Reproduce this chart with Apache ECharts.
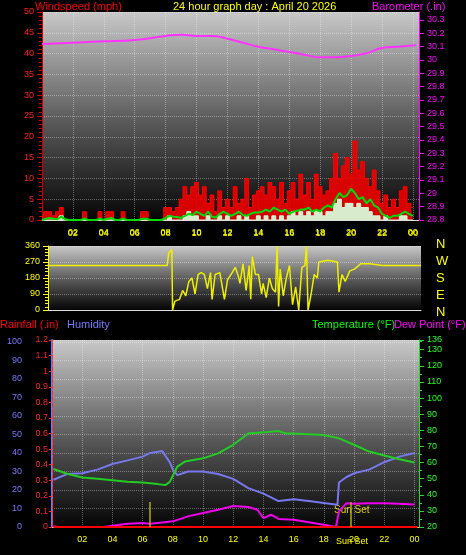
<!DOCTYPE html>
<html>
<head>
<script src="https://cdn.jsdelivr.net/npm/echarts@6.0.0/dist/echarts.min.js"></script>
<style>
  body { margin: 0; background: #000; }
  #chart { width: 466px; height: 555px; }
</style>
</head>
<body>
<div id="chart"></div>
<script>
// wind samples every 15 minutes, 00:00 .. 24:00
const windStep = 0.25;
const windGust = [0,2,2,1,2,3,0,0, 0,0,0,2,0,0,0,2, 0,2,2,0,0,2,0,0, 0,0,2,2,0,0,0,0,
  3,3,2,3, 5,8,6,8, 9,6,8,4, 6,2,7,3, 5,3,8,4, 5,10,3,6, 7,8,6,9, 8,5,9,4,
  7,9,5,11, 6,9,5,11, 8,6,7,10, 16,10,13,15, 11,19,12,14, 10,8,12,7, 4,6,3,5, 3,7,8,4, 3];
const windAvg = [0,0.3,0.5,0.3,0.2,0.8,0.2,0, 0,0,0,0.3,0,0,0,0.3, 0,0.3,0.5,0,0,0.3,0,0, 0,0,0.3,0.3,0,0,0,0,
  0.5,1,0.8,0.7, 0.5,1,1.5,1.2, 2,1.5,1,2, 0.8,0.6,1.5,2, 1.5,1,1.5,2, 1.2,1,1.5,1.8, 1.8,2,2.5,2, 3,2.5,2,2.5,
  1.5,2,2.2,2.5, 2.5,3,2,2.5, 2,3,3.5,3, 5,6.5,5.5,6, 7.5,6.5,5,5.5, 4,5,3.5,3, 1.5,1,0.5,1, 1,1.5,2,1.5, 1];
const windLull = [0,0,0,0,0,1,0,0, 0,0,0,0,0,0,0,0, 0,0,0,0,0,0,0,0, 0,0,0,0,0,0,0,0,
  0,1,0,0, 0,1,2,1, 1,0,0,1, 0,0,1,0, 1,0,0,1, 0,1,0,0, 1,0,1,0, 1,0,1,0,
  1,2,1,2, 1,2,1,2, 2,1,2,2, 4,5,3,4, 4,3,4,3, 3,2,1,1, 0,1,0,0, 0,1,1,0, 0];

const baroHours = [0,2,4,6,8,9,10,11,12,13,14,15,16,17,18,19,20,21,22,23,24.2];
const baroValues = [30.12,30.13,30.14,30.15,30.18,30.19,30.18,30.18,30.16,30.13,30.10,30.08,30.06,30.04,30.02,30.02,30.03,30.05,30.09,30.10,30.11];

const dirHours = [0,8.1,8.2,8.4,8.45,8.6,8.9,9.1,9.3,9.5,9.7,9.9,10.1,10.3,10.5,10.7,10.9,11.0,11.2,11.5,11.7,11.8,12.0,12.3,12.5,12.7,12.8,13.0,13.2,13.4,13.5,13.6,13.8,14.0,14.2,14.3,14.5,14.7,14.9,15.1,15.2,15.3,15.4,15.6,15.8,16.0,16.2,16.4,16.6,16.8,17.0,17.1,17.2,17.4,17.6,17.8,17.9,18.5,19.1,19.2,19.4,19.6,19.9,20.2,20.6,21.2,22.0,24.5];
const dirValues = [250,250,320,340,0,50,60,110,80,160,180,90,200,210,200,120,210,60,200,210,110,60,170,210,240,190,150,260,110,250,60,300,200,200,90,150,70,180,120,100,360,20,230,80,180,250,30,130,0,240,250,360,0,90,200,180,270,280,270,100,200,160,220,230,260,260,250,250];

const humHours = [0.1,1,2,3,4,5,6,6.5,7.3,7.8,8.0,8.3,9,10,11,12,13,14,14.5,15,16,17,18,18.9,19.0,19.5,20,21,22,23,24];
const humValues = [25.5,28.6,29,31,34,36,38,40,41,35,31,28,30,30,28.6,26,21,18,16,14,15,14,13,12,24,27,29,31,35,38,40];
const tempHours = [0.1,1,2,3,4,5,6,7,7.5,7.8,8.3,8.8,10,11,12,13,14,15,15.5,16,17,18,19,20,21,22,23,24];
const tempValues = [56,53,50.7,50,49,48,47.6,46.6,46,48,57.5,60.6,62.6,65.7,71,78,78.7,79.5,78,78,77.5,77,75,71,66.8,64.3,62,60];
const dewHours = [0.1,1,2,3,4,5,6,6.5,7,8,9,10,11,12,13,13.6,14,14.5,15,16,17,18,18.8,19,19.5,20,21,22,23,24];
const dewValues = [20.4,19,18.4,19.4,20.8,22,22.5,22,22.5,23.5,26.6,28.7,30.7,33,32.4,30.7,25.5,27.6,25,24.5,23,21.4,20,29.7,34.8,34.4,34.8,34.8,34.4,34];
const rainHours = [0.1,24.2];
const rainValues = [0,0];
const sunMarks = [6.5,19.8];

const pairs = (xs, ys) => xs.map((x, i) => [x, ys[i]]);
const stepped = ys => ys.map((v, i) => [i * windStep, v]);

const bg = () => new echarts.graphic.LinearGradient(0, 0, 0, 1, [
  { offset: 0, color: '#c8c8c8' }, { offset: 0.55, color: '#555' }, { offset: 1, color: '#050505' }]);
const split = { show: true, lineStyle: { color: 'rgba(255,255,255,0.35)', type: 'dotted' } };
const hourLabel = v => (v <= 0 || v > 24 ? '' : String(v % 24).padStart(2, '0'));
const lab = c => ({ color: c, fontSize: 9, fontFamily: 'Liberation Sans' });
const font = '11px Liberation Sans';

const chart = echarts.init(document.getElementById('chart'));
chart.setOption({
  backgroundColor: '#000',
  animation: false,
  grid: [
    { left: 42, right: 47, top: 12, height: 208, show: true, backgroundColor: bg(), borderWidth: 0 },
    { left: 48, right: 45, top: 246, height: 64, show: true, backgroundColor: bg(), borderWidth: 0 },
    { left: 52, right: 47, top: 340, height: 187, show: true, backgroundColor: bg(), borderWidth: 0 }
  ],
  xAxis: [
    { gridIndex: 0, type: 'value', min: 0, max: 24.4, interval: 2, axisLabel: { ...lab('#ffff00'), formatter: hourLabel },
      axisLine: { lineStyle: { color: '#ddd' } }, axisTick: { show: false }, splitLine: split },
    { gridIndex: 1, type: 'value', position: 'top', min: 0.4, max: 24.5, interval: 2, axisLabel: { ...lab('#ffff00'), formatter: hourLabel, customValues: [2,4,6,8,10,12,14,16,18,20,22,24] },
      axisLine: { lineStyle: { color: '#ddd' } }, axisTick: { show: false }, splitLine: { show: false } },
    { gridIndex: 2, type: 'value', min: 0, max: 24.3, interval: 2, axisLabel: { ...lab('#ffff00'), formatter: hourLabel },
      axisLine: { lineStyle: { color: '#ddd' } }, axisTick: { show: false }, splitLine: split }
  ],
  yAxis: [
    { gridIndex: 0, type: 'value', position: 'left', min: 0, max: 50, interval: 5, axisLabel: lab('#ff2020'),
      axisLine: { show: true, lineStyle: { color: '#cc0000' } }, axisTick: { show: true, lineStyle: { color: '#cc0000' } },
      minorTick: { show: true, splitNumber: 5, lineStyle: { color: '#cc0000' } }, splitLine: split },
    { gridIndex: 0, type: 'value', position: 'right', min: 28.8, max: 30.36, interval: 0.1,
      axisLabel: { ...lab('#ff00ff'), formatter: v => +v.toFixed(1) },
      axisLine: { show: true, lineStyle: { color: '#ff00ff' } }, axisTick: { show: true, lineStyle: { color: '#ff00ff' } }, splitLine: { show: false } },
    { gridIndex: 1, type: 'value', position: 'left', min: 0, max: 360, interval: 90, axisLabel: lab('#ffff00'),
      axisLine: { show: true, lineStyle: { color: '#ffff00' } }, axisTick: { show: true, lineStyle: { color: '#ffff00' } },
      minorTick: { show: true, splitNumber: 5, lineStyle: { color: '#ffff00' } }, splitLine: split },
    { gridIndex: 2, type: 'value', position: 'left', min: 0, max: 101, interval: 10, offset: 22, axisLabel: lab('#7777ff'),
      axisLine: { show: true, lineStyle: { color: '#7777ff', width: 2 } }, axisTick: { show: false }, splitLine: split },
    { gridIndex: 2, type: 'value', position: 'left', min: 0, max: 1.2, interval: 0.1,
      axisLabel: { ...lab('#ff2020'), margin: 4, formatter: v => +v.toFixed(1) },
      axisLine: { show: true, lineStyle: { color: '#ff3030', type: 'dashed' } }, axisTick: { show: true, length: 3, lineStyle: { color: '#ff3030' } }, splitLine: { show: false } },
    { gridIndex: 2, type: 'value', position: 'right', min: 20, max: 136, interval: 10, axisLabel: lab('#20ff20'),
      axisLine: { show: true, lineStyle: { color: '#20dd20' } }, axisTick: { show: true, lineStyle: { color: '#20dd20' } },
      minorTick: { show: true, splitNumber: 2, lineStyle: { color: '#20dd20' } }, splitLine: { show: false } }
  ],
  series: [
    { type: 'line', xAxisIndex: 0, yAxisIndex: 0, data: stepped(windGust), step: 'middle', symbol: 'none',
      lineStyle: { color: '#ff0000', width: 1 }, areaStyle: { color: '#ee0000', opacity: 0.9 } },
    { type: 'line', xAxisIndex: 0, yAxisIndex: 0, data: stepped(windLull), step: 'middle', symbol: 'none',
      lineStyle: { color: '#d8f8d8', width: 1 }, areaStyle: { color: '#d8f8d8', opacity: 0.95 } },
    { type: 'line', xAxisIndex: 0, yAxisIndex: 0, data: stepped(windAvg), symbol: 'none',
      lineStyle: { color: '#00dd00', width: 2 } },
    { type: 'line', xAxisIndex: 0, yAxisIndex: 1, data: pairs(baroHours, baroValues), smooth: true, symbol: 'none',
      lineStyle: { color: '#ff33ff', width: 2 } },
    { type: 'line', xAxisIndex: 1, yAxisIndex: 2, data: pairs(dirHours, dirValues), symbol: 'none',
      lineStyle: { color: '#eeee00', width: 1.5 } },
    { type: 'line', xAxisIndex: 2, yAxisIndex: 3, data: pairs(humHours, humValues), symbol: 'none',
      lineStyle: { color: '#7777ee', width: 2 } },
    { type: 'line', xAxisIndex: 2, yAxisIndex: 5, data: pairs(tempHours, tempValues), symbol: 'none',
      lineStyle: { color: '#22cc22', width: 2 } },
    { type: 'line', xAxisIndex: 2, yAxisIndex: 5, data: pairs(dewHours, dewValues), symbol: 'none',
      lineStyle: { color: '#ee00ee', width: 2 } },
    { type: 'line', xAxisIndex: 2, yAxisIndex: 4, data: pairs(rainHours, rainValues), symbol: 'none',
      lineStyle: { color: '#ff0000', width: 2 },
      markLine: { symbol: 'none', silent: true, label: { show: false },
        lineStyle: { color: '#bbaa00', type: 'solid', width: 1.5 },
        data: sunMarks.map(h => [{ coord: [h, 0] }, { coord: [h, 0.16] }]) } }
  ],
  graphic: [
    { type: 'text', left: 35, top: 1, style: { text: 'Windspeed (mph)', fill: '#ff0000', font } },
    { type: 'text', left: 173, top: 1, style: { text: '24 hour graph day : April 20 2026', fill: '#ffff00', font } },
    { type: 'text', left: 372, top: 1, style: { text: 'Barometer (.in)', fill: '#ff00ff', font } },
    { type: 'text', left: 0, top: 319, style: { text: 'Rainfall (.in)', fill: '#ff0000', font } },
    { type: 'text', left: 67, top: 319, style: { text: 'Humidity', fill: '#7777ff', font } },
    { type: 'text', left: 312, top: 319, style: { text: 'Temperature (°F)', fill: '#00ff00', font } },
    { type: 'text', left: 394, top: 319, style: { text: 'Dew Point (°F)', fill: '#ff00ff', font } },
    { type: 'text', left: 334, top: 505, style: { text: 'Sun Set', fill: '#ddcc00', font: '10px Liberation Sans' } },
    { type: 'text', left: 336, top: 537, style: { text: 'Sun Set', fill: '#ffff00', font: '9px Liberation Sans' } },
    ...['N','W','S','E','N'].map((t, i) => ({ type: 'text', left: 436, top: 238 + i * 17,
      style: { text: t, fill: '#ffff00', font: '13px Liberation Sans' } }))
  ]
});
</script>
</body>
</html>
